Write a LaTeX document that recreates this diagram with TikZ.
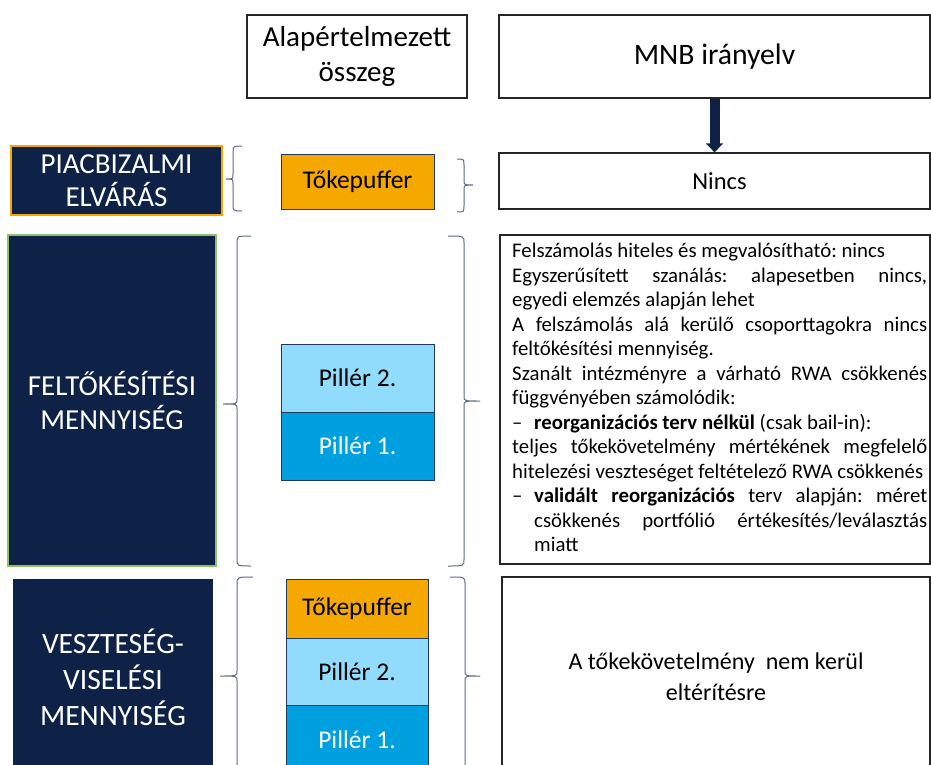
\documentclass[tikz,border=0pt]{standalone}
\usepackage{fontspec}
\setmainfont{Carlito}
\usetikzlibrary{arrows.meta}
\definecolor{navy}{HTML}{0E2147}
\definecolor{orangec}{HTML}{F5A900}
\definecolor{lightbluec}{HTML}{91DCFC}
\definecolor{bluec}{HTML}{009FE0}
\definecolor{greenc}{HTML}{8CC16A}
\definecolor{bracec}{HTML}{5A6A85}
\definecolor{stackc}{HTML}{1F3A60}
\newcommand\mkbrace[6]{% tipx, vx, endx, ytop, ymid, ybot
  \draw[bracec, line width=1pt] (#3,#4) .. controls (#2,#4) .. (#2,#4+7) -- (#2,#5-5)
    .. controls (#2,#5) .. (#1,#5) .. controls (#2,#5) .. (#2,#5+5) -- (#2,#6-7)
    .. controls (#2,#6) .. (#3,#6);}
\frenchspacing
\begin{document}
\begin{tikzpicture}[x=1pt,y=-1pt,
  box/.style={draw=black!85, line width=1.3pt, inner sep=0pt, align=center, text=black},
  navybox/.style={fill=navy, text=white, inner sep=0pt, align=center},
  stk/.style={draw=stackc, line width=1pt, inner sep=0pt, minimum width=153pt, font=\fontsize{25.5}{30}\selectfont},
  stkb/.style={stk, minimum width=142pt}]
\useasboundingbox (0,0) rectangle (931,765);
\clip (0,0) rectangle (931,765);
% header
\node[box, minimum width=220pt, minimum height=83pt, font=\fontsize{29}{35}\selectfont] (alap) at (357,56.5) {Alapértelmezett\\összeg};
\node[box, minimum width=431pt, minimum height=83pt, font=\fontsize{29.7}{35}\selectfont] (mnb) at (714.5,56.5) {MNB irányelv};
\node[box, minimum width=431pt, minimum height=56pt, font=\fontsize{24.5}{29}\selectfont] (nincs) at (714.5,181) {\hspace*{10pt}Nincs};
\draw[navy, line width=10pt, -{Triangle[width=17pt,length=9pt]}] (mnb.south) -- (nincs.north);
% row 1
\node[navybox, draw=orangec, line width=1.5pt, minimum width=211pt, minimum height=69pt, font=\fontsize{29}{33}\selectfont] (piac) at (116.5,180.5) {PIACBIZALMI\\ELVÁRÁS};
\node[stk, fill=orangec, minimum height=55pt] (puf1) at (357.5,181.5) {Tőkepuffer};
\mkbrace{226}{233}{242}{146}{179}{211}
\mkbrace{473}{464}{457}{159}{185}{212}
% row 2
\node[navybox, draw=greenc, line width=1.5pt, minimum width=208pt, minimum height=331pt, font=\fontsize{29}{34}\selectfont] (felt) at (112,400.5) {FELTŐKÉSÍTÉSI\\MENNYISÉG};
\node[stk, fill=lightbluec, minimum height=68pt] (p2a) at (357.5,378) {Pillér 2.};
\node[stk, fill=bluec, text=white, minimum height=68pt] (p1a) at (357.5,446) {Pillér 1.};
\mkbrace{223}{237}{251}{236}{404}{566}
\mkbrace{480}{464}{448}{236}{401}{566}
\node[box, minimum width=430pt, minimum height=329pt] (txtbox) at (715,399.5) {};
\node[anchor=north west, text width=415pt, align=justify, inner sep=0pt, font=\fontsize{20.8}{24.5}\selectfont] (txt) at (512,243) {\parindent=0pt\hyphenpenalty=10000\emergencystretch=20pt\frenchspacing
Felszámolás hiteles és megvalósítható: nincs\par
Egyszerűsített szanálás: alapesetben nincs,\linebreak egyedi elemzés alapján lehet\par
A felszámolás alá kerülő csoporttagokra nincs\linebreak feltőkésítési mennyiség.\par
Szanált intézményre a várható RWA csökkenés\linebreak függvényében számolódik:\par
\hangindent=22pt\hangafter=1 \makebox[22pt][l]{–}\textbf{reorganizációs terv nélkül} (csak bail-in):\par
teljes tőkekövetelmény mértékének megfelelő\linebreak hitelezési veszteséget feltételező RWA csökkenés\par
\hangindent=22pt\hangafter=1 \makebox[22pt][l]{–}\textbf{validált reorganizációs} terv alapján: méret\linebreak csökkenés portfólió értékesítés/leválasztás\linebreak miatt\par};
% row 3
\node[navybox, minimum width=200pt, minimum height=196pt, font=\fontsize{29.5}{36}\selectfont] (veszt) at (113,677) {VESZTESÉG-\\VISELÉSI\\MENNYISÉG};
\node[stkb, fill=orangec, minimum height=59pt] (puf2) at (357,608.5) {Tőkepuffer};
\node[stkb, fill=lightbluec, minimum height=67pt] (p2b) at (357,671.5) {Pillér 2.};
\node[stkb, fill=bluec, text=white, minimum height=70pt] (p1b) at (357,740) {Pillér 1.};
\mkbrace{220}{237}{253}{577}{676}{775}
\mkbrace{480}{465}{450}{577}{676}{775}
\node[box, minimum width=428pt, minimum height=200pt, font=\fontsize{24}{31}\selectfont] (bottxt) at (716,677) {A tőkekövetelmény~ nem kerül\\eltérítésre};
\end{tikzpicture}
\end{document}
